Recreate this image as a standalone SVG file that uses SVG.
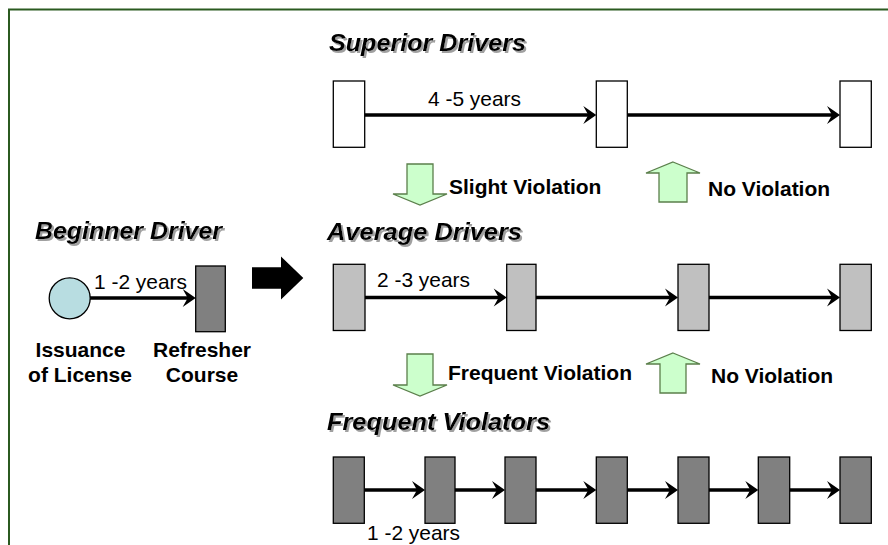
<svg xmlns="http://www.w3.org/2000/svg" width="888" height="545" viewBox="0 0 888 545">
<defs>
<style>
.title{font-family:"Liberation Sans",Arial,sans-serif;font-weight:bold;font-style:italic;font-size:24px;fill:#000;filter:url(#sh)}
.lbl{font-family:"Liberation Sans",Arial,sans-serif;font-weight:bold;font-size:21px;fill:#000}
.yr{font-family:"Liberation Sans",Arial,sans-serif;font-size:21px;fill:#000}
.w{fill:#fff;stroke:#000;stroke-width:1.3}
.g{fill:#c0c0c0;stroke:#000;stroke-width:1.3}
.d{fill:#808080;stroke:#000;stroke-width:1.3}
.ga{fill:#ccffcc;stroke:#5b7f4b;stroke-width:1.3}
.c line{stroke:#000;stroke-width:3.5;marker-end:url(#ah)}
</style>
<filter id="sh" x="-5%" y="-30%" width="115%" height="170%">
<feOffset in="SourceAlpha" dx="2" dy="2" result="o"/>
<feGaussianBlur in="o" stdDeviation="0.6" result="b"/>
<feFlood flood-color="#a0a0a0"/>
<feComposite in2="b" operator="in" result="s"/>
<feMerge><feMergeNode in="s"/><feMergeNode in="SourceGraphic"/></feMerge>
</filter>
<marker id="ah" markerUnits="userSpaceOnUse" markerWidth="22" markerHeight="22" viewBox="-11 -11 22 22" refX="0" refY="0" orient="auto">
<path d="M-6,-9 L7,0 L-6,9 L-1,0 Z" fill="#000"/>
</marker>
</defs>
<rect x="0" y="0" width="888" height="545" fill="#fff"/>
<rect id="frame" x="9" y="9.5" width="900" height="560" fill="none" stroke="#2b5a20" stroke-width="2"/>

<g id="titles">
<text class="title" x="329" y="51" textLength="197" lengthAdjust="spacingAndGlyphs">Superior Drivers</text>
<text class="title" x="35" y="239" textLength="187" lengthAdjust="spacingAndGlyphs">Beginner Driver</text>
<text class="title" x="327" y="240" textLength="195" lengthAdjust="spacingAndGlyphs">Average Drivers</text>
<text class="title" x="327" y="430" textLength="223" lengthAdjust="spacingAndGlyphs">Frequent Violators</text>
</g>

<g id="connectors" class="c">
<line x1="364.7" y1="115" x2="589.3" y2="115"/>
<line x1="627.3" y1="115" x2="833" y2="115"/>
<line x1="90" y1="298" x2="188.7" y2="298"/>
<line x1="365" y1="297.5" x2="499.7" y2="297.5"/>
<line x1="536" y1="297.5" x2="671" y2="297.5"/>
<line x1="709" y1="297.5" x2="833" y2="297.5"/>
<line x1="364.3" y1="490" x2="418" y2="490"/>
<line x1="455" y1="490" x2="498" y2="490"/>
<line x1="536" y1="490" x2="589.3" y2="490"/>
<line x1="627.3" y1="490" x2="671" y2="490"/>
<line x1="709" y1="490" x2="751.3" y2="490"/>
<line x1="789.7" y1="490" x2="833" y2="490"/>
</g>

<g id="beginner">
<g id="issuance"><circle cx="69.7" cy="298.3" r="20.5" fill="#b8dde1" stroke="#000" stroke-width="1.3"/>
<text class="lbl" x="80.5" y="357" text-anchor="middle">Issuance</text>
<text class="lbl" x="80" y="382" text-anchor="middle">of License</text></g>
<g id="refresher"><rect class="d" x="195.7" y="266" width="29.6" height="65.7"/>
<text class="lbl" x="202" y="357" text-anchor="middle">Refresher</text>
<text class="lbl" x="202" y="382" text-anchor="middle">Course</text></g>
<text class="yr" x="94" y="289" textLength="93" lengthAdjust="spacingAndGlyphs">1 -2 years</text>
</g>

<g id="bigarrow"><polygon points="252,267.3 281,267.3 281,256.5 303.3,278 281,299.5 281,288.7 252,288.7" fill="#000"/></g>

<g id="superior">
<rect id="s1" class="w" x="333.3" y="81" width="31.4" height="66.3"/>
<rect id="s2" class="w" x="596.3" y="81" width="31" height="66.3"/>
<rect id="s3" class="w" x="840" y="81" width="31.3" height="66.3"/>
<text class="yr" x="428" y="105.5" textLength="93" lengthAdjust="spacingAndGlyphs">4 -5 years</text>
</g>

<g id="transition1">
<polygon class="ga" points="407,164 433,164 433,194 447,194 420,205 393,194 407,194"/>
<text class="lbl" x="449" y="194">Slight Violation</text>
<polygon class="ga" points="673,162 700,173 687,173 687,202 659,202 659,173 646,173"/>
<text class="lbl" x="708" y="196">No Violation</text>
</g>

<g id="average">
<rect id="a1" class="g" x="333.3" y="264.3" width="31.7" height="66.2"/>
<rect id="a2" class="g" x="506.7" y="264.3" width="29.3" height="66.2"/>
<rect id="a3" class="g" x="678" y="264.3" width="31" height="66.2"/>
<rect id="a4" class="g" x="840" y="264.3" width="31.3" height="66.2"/>
<text class="yr" x="377" y="287" textLength="93" lengthAdjust="spacingAndGlyphs">2 -3 years</text>
</g>

<g id="transition2">
<polygon class="ga" points="407,354 433,354 433,385 447,385 420,396 393,385 407,385"/>
<text class="lbl" x="448" y="380">Frequent Violation</text>
<polygon class="ga" points="673,353 700,364 686,364 686,393 660,393 660,364 646,364"/>
<text class="lbl" x="711" y="383">No Violation</text>
</g>

<g id="violators">
<rect id="f1" class="d" x="333.3" y="457" width="31" height="66.3"/>
<rect id="f2" class="d" x="425" y="457" width="30" height="66.3"/>
<rect id="f3" class="d" x="505" y="457" width="31" height="66.3"/>
<rect id="f4" class="d" x="596.3" y="457" width="31" height="66.3"/>
<rect id="f5" class="d" x="678" y="457" width="31" height="66.3"/>
<rect id="f6" class="d" x="758.3" y="457" width="31.4" height="66.3"/>
<rect id="f7" class="d" x="840" y="457" width="31.3" height="66.3"/>
<text class="yr" x="367" y="540" textLength="93" lengthAdjust="spacingAndGlyphs">1 -2 years</text>
</g>
</svg>
